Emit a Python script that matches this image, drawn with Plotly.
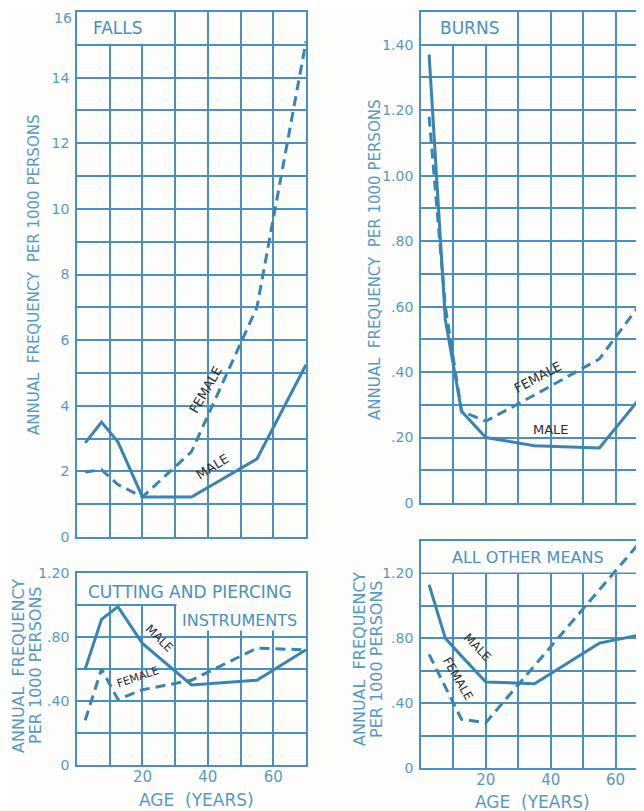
import plotly.graph_objects as go

# ---------------- data ----------------
ages = [2.5, 7.5, 12.5, 20, 35, 55, 70]

falls_male = [2.87, 3.5, 2.9, 1.22, 1.22, 2.38, 5.25]
falls_female = [1.98, 2.05, 1.6, 1.22, 2.6, 7.0, 15.1]

burns_male = [1.37, 0.56, 0.28, 0.20, 0.175, 0.168, 0.35]
burns_female = [1.18, 0.60, 0.28, 0.25, 0.33, 0.44, 0.64]

cut_male = [0.60, 0.91, 0.99, 0.76, 0.50, 0.53, 0.72]
cut_female = [0.28, 0.60, 0.41, 0.47, 0.53, 0.73, 0.72]

other_male = [1.13, 0.80, 0.69, 0.53, 0.52, 0.77, 0.83]
other_female = [0.70, 0.50, 0.30, 0.28, 0.63, 1.10, 1.45]

x_grid = [0, 10, 20, 30, 40, 50, 60, 70]
x_labels_bottom = ["", "", "20", "", "40", "", "60", ""]

falls_grid = list(range(0, 17))
# the top label "16" sits at the very edge of the page, drawn separately below
falls_labels = [str(v) if v % 2 == 0 and v < 16 else "" for v in falls_grid]
falls_top_label = "16"

burns_grid = [i / 10 for i in range(0, 16)]
burns_labels = ["0", "", ".20", "", ".40", "", ".60", "", ".80", "", "1.00", "", "1.20", "", "1.40", ""]

small_grid = [0, 0.2, 0.4, 0.6, 0.8, 1.0, 1.2, 1.4]
small_labels = ["0", "", ".40", "", ".80", "", "1.20", ""]

# ---------------- style ----------------
# the page body keeps an 8px margin, so the figure is 8px smaller and
# every reference pixel position is shifted by that offset
OFF = 8
W, H = 644 - OFF, 811 - OFF
BG = "#fdfdfb"
GRID = "#4a90bf"
LINE = "#3a84b2"
TICK = "#5799c6"
INK = "#2e2e2e"
FONT = "DejaVu Sans"


def PX(x):
    return (x - OFF) / W


def PY(y):
    return 1 - (y - OFF) / H


fig = go.Figure()

panels = [
    ("x", "y", falls_male, falls_female),
    ("x2", "y2", burns_male, burns_female),
    ("x3", "y3", cut_male, cut_female),
    ("x4", "y4", other_male, other_female),
]
for xa, ya, m, f in panels:
    fig.add_trace(go.Scatter(x=ages, y=f, xaxis=xa, yaxis=ya, mode="lines",
                             line=dict(color=LINE, width=3, dash="10px,6px"),
                             showlegend=False, hoverinfo="skip"))
    fig.add_trace(go.Scatter(x=ages, y=m, xaxis=xa, yaxis=ya, mode="lines",
                             line=dict(color=LINE, width=3),
                             showlegend=False, hoverinfo="skip"))

common_ax = dict(showgrid=True, gridcolor=GRID, gridwidth=1.5, zeroline=False,
                 showline=True, linecolor=GRID, linewidth=1.8, ticks="",
                 tickfont=dict(family=FONT, size=14, color=TICK),
                 fixedrange=True, tickmode="array", automargin=False)


def xax(domain, rng, labels, anchor):
    d = dict(common_ax)
    d.update(domain=domain, range=rng, tickvals=x_grid, ticktext=labels,
             mirror=True, anchor=anchor, ticklabelstandoff=-3)
    return d


def yax(domain, rng, vals, labels, anchor, mirror=True):
    d = dict(common_ax)
    d.update(domain=domain, range=rng, tickvals=vals, ticktext=labels,
             mirror=mirror, anchor=anchor, ticklabelstandoff=3)
    return d


blank = [""] * len(x_grid)
R_RIGHT = [0, 70 * (644 - 421) / 227]

fig.update_layout(
    width=W, height=H,
    margin=dict(l=0, r=0, t=0, b=0, autoexpand=False),
    paper_bgcolor=BG, plot_bgcolor=BG,
    xaxis=xax([PX(77), PX(306)], [0, 70], blank, "y"),
    yaxis=yax([PY(537), PY(12)], [0, 16], falls_grid, falls_labels, "x"),
    xaxis2=xax([PX(421), 1.0], R_RIGHT, blank, "y2"),
    yaxis2=yax([PY(503), PY(12)], [0, 1.5], burns_grid, burns_labels, "x2", mirror=False),
    xaxis3=xax([PX(77), PX(306)], [0, 70], x_labels_bottom, "y3"),
    yaxis3=yax([PY(765), PY(573)], [0, 1.2], small_grid[:-1], small_labels[:-1], "x3"),
    xaxis4=xax([PX(421), 1.0], R_RIGHT, x_labels_bottom, "y4"),
    yaxis4=yax([PY(768), PY(541)], [0, 1.4], small_grid, small_labels, "x4", mirror=False),
)
for k in ["xaxis3", "xaxis4"]:
    fig.layout[k].tickfont.size = 15

# boxes that interrupt the grid behind panel titles
covers = [
    ("x", "y", 0.4, 29.6, 15.03, 16),
    ("x2", "y2", 0.4, 29.6, 1.403, 1.5),
    ("x3", "y3", 0, 70, 1.006, 1.2),
    ("x3", "y3", 30.4, 70, 0.84, 1.01),
    ("x4", "y4", 0, 72, 1.205, 1.4),
]
for xr, yr, x0, x1, y0, y1 in covers:
    fig.add_shape(type="rect", xref=xr, yref=yr, x0=x0, x1=x1, y0=y0, y1=y1,
                  fillcolor=BG, line=dict(width=0), layer="between")

ann = []


def text(x, y, s, size, color=GRID, angle=0, xanchor="center"):
    ann.append(dict(x=PX(x), y=PY(y), xref="paper", yref="paper", text=s,
                    showarrow=False, textangle=angle, xanchor=xanchor, yanchor="middle",
                    font=dict(family=FONT, size=size, color=color)))


# top tick label of the falls panel
text(74, 18, falls_top_label, 14, TICK, 0, "right")

# panel titles
text(118, 28, "FALLS", 17)
text(469, 28, "BURNS", 17)
text(190, 592, "CUTTING AND PIERCING", 17)
text(240, 620, "INSTRUMENTS", 16)
text(528, 557, "ALL OTHER MEANS", 16)

# axis titles
text(34, 275, "ANNUAL  FREQUENCY  PER 1000 PERSONS", 15, TICK, -90)
text(375, 260, "ANNUAL  FREQUENCY  PER 1000 PERSONS", 15, TICK, -90)
text(18, 666, "ANNUAL  FREQUENCY", 16, TICK, -90)
text(35, 665, "PER 1000 PERSONS", 16, TICK, -90)
text(359, 659, "ANNUAL  FREQUENCY", 16, TICK, -90)
text(376, 659, "PER 1000 PERSONS", 16, TICK, -90)
text(196, 800, "AGE  (YEARS)", 17, TICK)
text(532, 802, "AGE  (YEARS)", 17, TICK)

# series labels
text(205, 390, "FEMALE", 13, INK, -60)
text(213, 467, "MALE", 13, INK, -32)
text(537, 377, "FEMALE", 13, INK, -28)
text(551, 429, "MALE", 13, INK, 0)
text(159, 638, "MALE", 12, INK, 45)
text(137, 677, "FEMALE", 11, INK, -19)
text(477, 647, "MALE", 12, INK, 46)
text(458, 679, "FEMALE", 12, INK, 60)

fig.update_layout(annotations=ann)

fig.write_html("out.html")
